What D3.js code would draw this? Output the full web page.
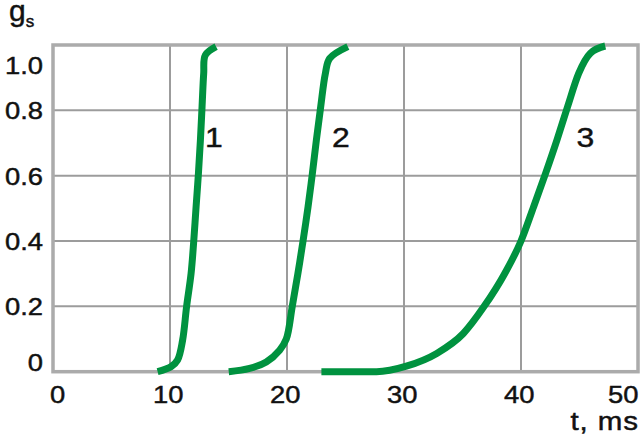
<!DOCTYPE html>
<html>
<head>
<meta charset="utf-8">
<script src="https://cdn.jsdelivr.net/npm/d3@7"></script>
<style>
  html, body { margin: 0; padding: 0; background: #fff; }
  svg { display: block; font-family: "Liberation Sans", Arial, sans-serif; }
</style>
</head>
<body>
<svg id="chart" width="640" height="442"></svg>
<script>
// ---- data ----
const xTicks = [0, 10, 20, 30, 40, 50];
const xTickLabels = ["0", "10", "20", "30", "40", "50"];
const yTicks = [0, 0.2, 0.4, 0.6, 0.8, 1.0];
const yTickLabels = ["0", "0.2", "0.4", "0.6", "0.8", "1.0"];

const curve1T = [8.94, 10.08, 10.65, 11.08, 11.42, 11.8, 12.03, 12.23, 12.43, 12.6, 12.74, 12.88, 13.02, 13.94];
const curve1G = [0.0, 0.015, 0.036, 0.097, 0.2, 0.3, 0.4, 0.505, 0.607, 0.709, 0.811, 0.913, 0.969, 0.995];

const curve2T = [15.02, 16.8, 18.23, 19.37, 19.94, 20.45, 20.93, 21.37, 21.8, 22.17, 22.51, 22.88, 23.28, 23.65, 25.2];
const curve2G = [0.0, 0.01, 0.03, 0.066, 0.1, 0.2, 0.3, 0.4, 0.505, 0.607, 0.709, 0.811, 0.913, 0.959, 0.995];

const curve3T = [22.94, 27.65, 30.2, 32.8, 35.07, 36.85, 38.6, 40.0, 41.08, 42.1, 43.07, 43.98, 44.93, 45.93, 47.2];
const curve3G = [0.0, 0.0, 0.017, 0.056, 0.117, 0.2, 0.3, 0.4, 0.505, 0.607, 0.709, 0.811, 0.913, 0.975, 0.997];

const curveNames = ["1", "2", "3"];
const curveLabelT = [13.75, 24.6, 45.5];
const curveLabelG = [0.718, 0.718, 0.718];

const yAxisTitle = "g";
const yAxisTitleSub = "s";
const xAxisTitle = "t, ms";

// ---- chart ----
const svg = d3.select("#chart");
const x = d3.scaleLinear().domain([0, 50]).range([53, 638]);
const y = d3.scaleLinear().domain([0, 1]).range([371.7, 45]);

const green = "#00923f";
const textColor = "#111";
const stretch = "scale(1.14,1)";

function styleText(sel, size) {
  sel.attr("font-size", size)
    .attr("font-family", "Liberation Sans, Arial, sans-serif")
    .attr("fill", textColor)
    .attr("stroke", textColor)
    .attr("stroke-width", 0.45);
}

// grid lines (inner)
svg.append("g").selectAll("line")
  .data(xTicks.filter(d => d > 0 && d < 50))
  .join("line")
  .attr("x1", d => x(d)).attr("x2", d => x(d))
  .attr("y1", y(0)).attr("y2", y(1))
  .attr("stroke", "#9c9c9c").attr("stroke-width", 2);

svg.append("g").selectAll("line")
  .data(yTicks.filter(d => d > 0 && d < 1))
  .join("line")
  .attr("x1", x(0)).attr("x2", x(50))
  .attr("y1", d => y(d)).attr("y2", d => y(d))
  .attr("stroke", "#9c9c9c").attr("stroke-width", 2);

// frame
svg.append("rect")
  .attr("x", x(0)).attr("y", y(1))
  .attr("width", x(50) - x(0)).attr("height", y(0) - y(1))
  .attr("fill", "none").attr("stroke", "#ababab").attr("stroke-width", 3.5);

// y axis labels
const yAxis = d3.axisLeft(y)
  .tickValues(yTicks)
  .tickSize(0)
  .tickPadding(0)
  .tickFormat((d, i) => yTickLabels[i]);
const yg = svg.append("g").attr("transform", `translate(${x(0) - 10},0)`).call(yAxis);
yg.select(".domain").remove();
yg.selectAll("text")
  .call(styleText, 24)
  .attr("transform", stretch)
  .attr("dy", (d) => d === 1 ? "1.2em" : (d === 0 ? "-0.05em" : "0.35em"));

// x axis labels
const xAxis = d3.axisBottom(x)
  .tickValues(xTicks)
  .tickSize(0)
  .tickPadding(0)
  .tickFormat((d, i) => xTickLabels[i]);
const xg = svg.append("g").attr("transform", `translate(0,${y(0) + 14})`).call(xAxis);
xg.select(".domain").remove();
xg.selectAll("text")
  .call(styleText, 24)
  .attr("transform", stretch)
  .attr("text-anchor", d => d === 0 ? "start" : (d === 50 ? "end" : "middle"))
  .attr("x", d => d === 0 ? -3 : (d === 50 ? 0 : -2));

// axis titles
const yt = svg.append("text")
  .attr("x", 9).attr("y", 21)
  .call(styleText, 30);
yt.append("tspan").text(yAxisTitle);
yt.append("tspan").attr("font-size", 17).attr("dy", 6).attr("dx", 0).text(yAxisTitleSub);

svg.append("text")
  .attr("transform", "translate(639,430) scale(1.18,1)")
  .attr("text-anchor", "end")
  .attr("letter-spacing", 0.8)
  .call(styleText, 25)
  .text(xAxisTitle);

// curves
const curves = [
  curve1T.map((t, i) => [t, curve1G[i]]),
  curve2T.map((t, i) => [t, curve2G[i]]),
  curve3T.map((t, i) => [t, curve3G[i]])
];
const steepLine = d3.line()
  .x(d => x(d[0])).y(d => y(d[1]))
  .curve(d3.curveCatmullRom.alpha(0.5));
const flatLine = d3.line()
  .x(d => x(d[0])).y(d => y(d[1]))
  .curve(d3.curveMonotoneX);

svg.append("g").selectAll("path")
  .data(curves)
  .join("path")
  .attr("d", (d, i) => i < 2 ? steepLine(d) : flatLine(d))
  .attr("fill", "none")
  .attr("stroke", green)
  .attr("stroke-width", 7)
  .attr("stroke-linecap", "butt")
  .attr("stroke-linejoin", "round");

// curve labels
svg.append("g").selectAll("text")
  .data(curveNames)
  .join("text")
  .attr("transform", (d, i) => `translate(${x(curveLabelT[i])},${y(curveLabelG[i])}) ${stretch}`)
  .attr("dy", "0.35em")
  .attr("text-anchor", "middle")
  .call(styleText, 28)
  .text(d => d);
</script>
</body>
</html>
